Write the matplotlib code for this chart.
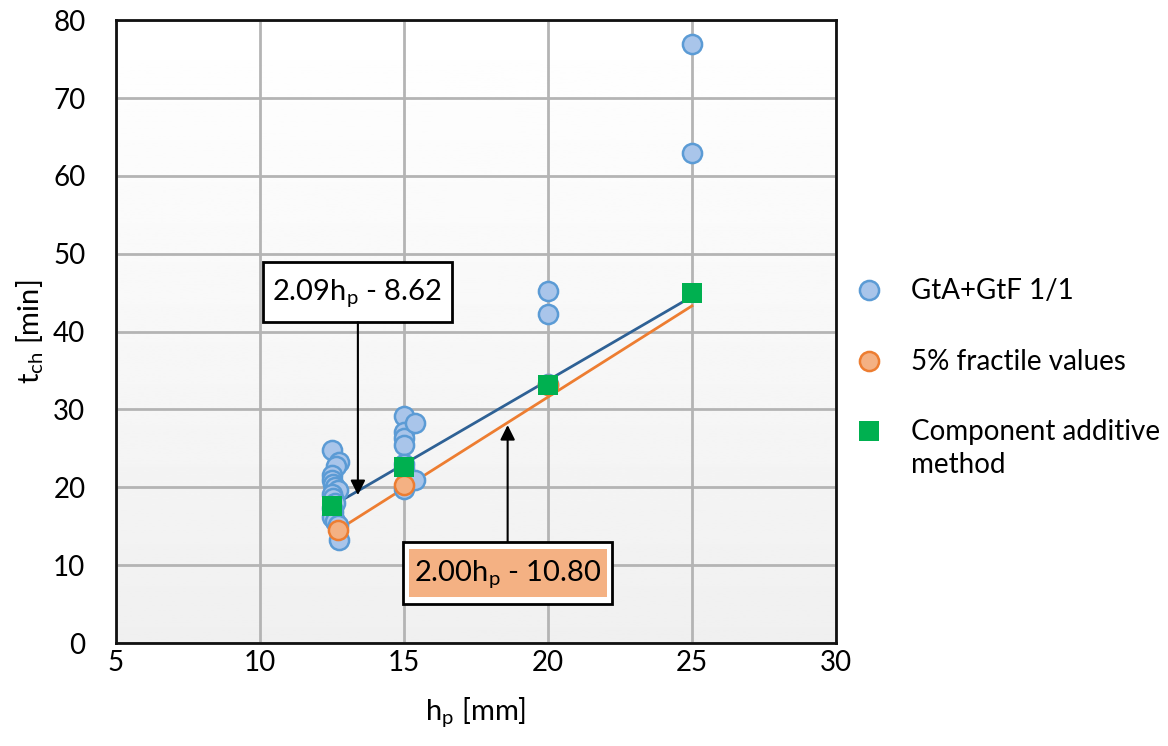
import numpy as np
import matplotlib
matplotlib.use("Agg")
import matplotlib.pyplot as plt
from matplotlib.patches import Rectangle

plt.rcParams['font.family'] = ['Lato', 'DejaVu Sans']
plt.rcParams['mathtext.default'] = 'regular'

# GtA+GtF 1/1 test results
gta_x = [12.5, 12.75, 12.65, 12.5, 12.5, 12.55, 12.6, 12.7, 12.5, 12.55, 12.6, 12.5,
         12.55, 12.5, 12.6, 12.7, 12.75,
         15.0, 15.0, 15.0, 15.0, 15.0, 15.0, 15.0, 15.4, 15.4,
         20.0, 20.0, 20.0,
         25.0, 25.0]
gta_y = [24.8, 23.2, 22.8, 21.6, 21.0, 20.4, 20.0, 19.6, 19.2, 18.6, 18.0, 17.3,
         16.8, 16.2, 15.7, 15.2, 13.2,
         29.2, 27.1, 26.3, 25.4, 23.0, 22.3, 19.8, 28.2, 20.9,
         45.2, 42.2, 33.3,
         77.0, 63.0]

# 5% fractile values
frac_x = [12.7, 15.0, 20.0]
frac_y = [14.5, 20.3, 33.2]

# component additive method
cam_x = [12.5, 15.0, 20.0, 25.0]
cam_y = [17.6, 22.6, 33.2, 45.0]

# trend lines (end points)
blue_line_x = [12.5, 25.0]
blue_line_y = [17.6, 44.5]
orange_line_x = [12.7, 25.0]
orange_line_y = [14.5, 43.3]

fig = plt.figure(figsize=(11.68, 7.46), dpi=100)
ax = fig.add_axes([0.0993, 0.138, 0.6164, 0.835])

ax.set_xlim(5, 30)
ax.set_ylim(0, 80)

# background gradient white (top) -> light grey (bottom)
grad = np.linspace(1.0, 0.94, 256).reshape(-1, 1)
ax.imshow(grad, cmap='gray', vmin=0, vmax=1, aspect='auto',
          extent=[0, 1, 0, 1], transform=ax.transAxes, zorder=0)

ax.set_xticks(np.arange(5, 31, 5))
ax.set_yticks(np.arange(0, 81, 10))
ax.grid(True, color='#b4b4b4', linewidth=2)
ax.set_axisbelow(True)
for s in ax.spines.values():
    s.set_linewidth(2)
    s.set_color('#111111')
ax.tick_params(length=0, labelsize=20)
ax.tick_params(axis='x', pad=5)
ax.tick_params(axis='y', pad=22)

ax.plot(blue_line_x, blue_line_y, color='#2e6195', lw=2, zorder=3)
ax.plot(orange_line_x, orange_line_y, color='#ed7d31', lw=2, zorder=3)

ax.scatter(gta_x, gta_y, s=190, facecolor='#a9c5ea', edgecolor='#5b9bd5',
           linewidth=1.8, zorder=4, label='GtA+GtF 1/1')
ax.scatter(frac_x, frac_y, s=190, facecolor='#f4b183', edgecolor='#ed7d31',
           linewidth=1.8, zorder=5, label='5% fractile values')
ax.scatter(cam_x, cam_y, s=190, marker='s', facecolor='#00b050', edgecolor='#00b050',
           linewidth=0, zorder=6, label='Component additive\nmethod')

# annotation boxes
ax.add_patch(Rectangle((10.10, 41.2), 6.57, 7.7, facecolor='white',
                       edgecolor='black', lw=2, zorder=7))
ax.text(13.38, 45.0, '2.09h$_p$ - 8.62', ha='center', va='center',
        fontsize=21, zorder=8)
ax.annotate('', xy=(13.4, 19.0), xytext=(13.4, 41.2),
            arrowprops=dict(arrowstyle='-|>', color='black', lw=1.5,
                            mutation_scale=22, shrinkA=0, shrinkB=0), zorder=7)

ax.add_patch(Rectangle((14.97, 5.0), 7.25, 8.0, facecolor='white',
                       edgecolor='black', lw=2, zorder=7))
ax.add_patch(Rectangle((15.17, 5.9), 6.88, 6.2, facecolor='#f4b183',
                       edgecolor='none', zorder=8))
ax.text(18.6, 8.9, '2.00h$_p$ - 10.80', ha='center', va='center',
        fontsize=21, zorder=9)
ax.annotate('', xy=(18.6, 28.0), xytext=(18.6, 13.0),
            arrowprops=dict(arrowstyle='-|>', color='black', lw=1.5,
                            mutation_scale=22, shrinkA=0, shrinkB=0), zorder=7)

ax.set_xlabel('h$_p$ [mm]', fontsize=21, labelpad=14)
ax.set_ylabel('t$_{ch}$ [min]', fontsize=21, labelpad=5)

leg = ax.legend(loc='upper left', bbox_to_anchor=(0.711, 0.642),
                bbox_transform=fig.transFigure, frameon=False, fontsize=20,
                labelspacing=1.6, handletextpad=0.5, borderaxespad=0,
                markerscale=1.0)
for t in leg.get_texts():
    t.set_linespacing(1.35)
# put the square next to the first line of the two-line label
for col in leg._legend_handle_box.get_children():
    for row in col.get_children():
        row.align = 'top'

fig.savefig('out.png', dpi=100)
